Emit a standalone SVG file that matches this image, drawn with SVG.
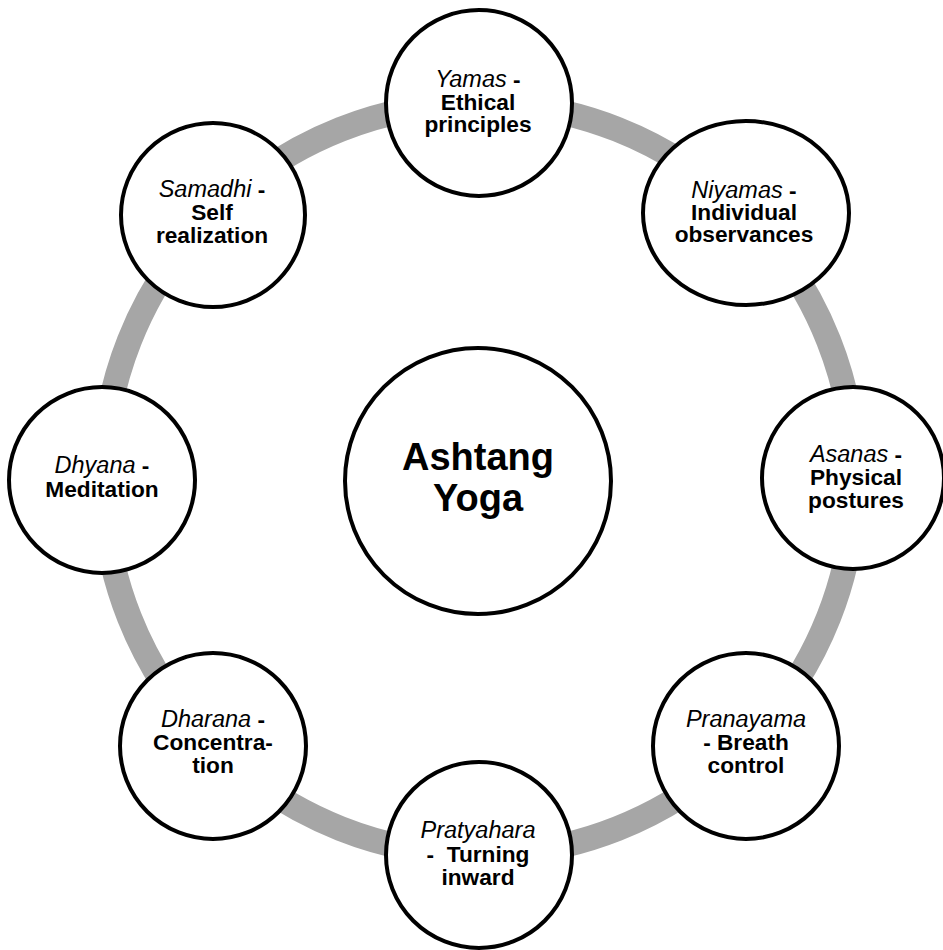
<svg xmlns="http://www.w3.org/2000/svg" width="943" height="950" viewBox="0 0 943 950">
<style>
.node{fill:#fff;stroke:#000;stroke-width:4}
.ring{fill:none;stroke:#a6a6a6;stroke-width:25}
text{font-family:"Liberation Sans",Arial,sans-serif;font-size:22.7px;font-weight:bold;fill:#000;text-anchor:middle}
.it{font-style:italic;font-weight:normal;font-size:23.5px}
.big{font-size:38px}
</style>
<rect width="943" height="950" fill="#fff"/>
<g id="connectors">
<circle class="ring" cx="479" cy="479" r="376"/>
</g>
<g id="center">
<circle class="node" cx="478" cy="481" r="133"/>
<text class="big" x="478" y="470">Ashtang</text>
<text class="big" x="478" y="511">Yoga</text>
</g>
<g id="yamas">
<circle class="node" cx="479" cy="103" r="93"/>
<text x="478" y="87"><tspan class="it">Yamas</tspan> -</text>
<text x="478" y="110">Ethical</text>
<text x="478" y="132">principles</text>
</g>
<g id="niyamas">
<ellipse class="node" cx="746" cy="213" rx="103" ry="92"/>
<text x="744" y="198"><tspan class="it">Niyamas</tspan> -</text>
<text x="744" y="220">Individual</text>
<text x="744" y="242">observances</text>
</g>
<g id="asanas">
<circle class="node" cx="853" cy="478" r="91"/>
<text x="856" y="462"><tspan class="it">Asanas</tspan> -</text>
<text x="856" y="485">Physical</text>
<text x="856" y="508">postures</text>
</g>
<g id="pranayama">
<circle class="node" cx="746" cy="746" r="93"/>
<text x="746" y="727"><tspan class="it">Pranayama</tspan></text>
<text x="746" y="750">- Breath</text>
<text x="746" y="773">control</text>
</g>
<g id="pratyahara">
<circle class="node" cx="479" cy="855" r="93"/>
<text x="478" y="838"><tspan class="it">Pratyahara</tspan></text>
<text x="478" y="862" xml:space="preserve">-  Turning</text>
<text x="478" y="885">inward</text>
</g>
<g id="dharana">
<circle class="node" cx="213" cy="746" r="93"/>
<text x="213" y="727"><tspan class="it">Dharana</tspan> -</text>
<text x="213" y="750">Concentra-</text>
<text x="213" y="773">tion</text>
</g>
<g id="dhyana">
<circle class="node" cx="102" cy="480" r="93"/>
<text x="102" y="473"><tspan class="it">Dhyana</tspan> -</text>
<text x="102" y="497">Meditation</text>
</g>
<g id="samadhi">
<circle class="node" cx="213" cy="215" r="92"/>
<text x="212" y="197"><tspan class="it">Samadhi</tspan> -</text>
<text x="212" y="220">Self</text>
<text x="212" y="243">realization</text>
</g>
</svg>
